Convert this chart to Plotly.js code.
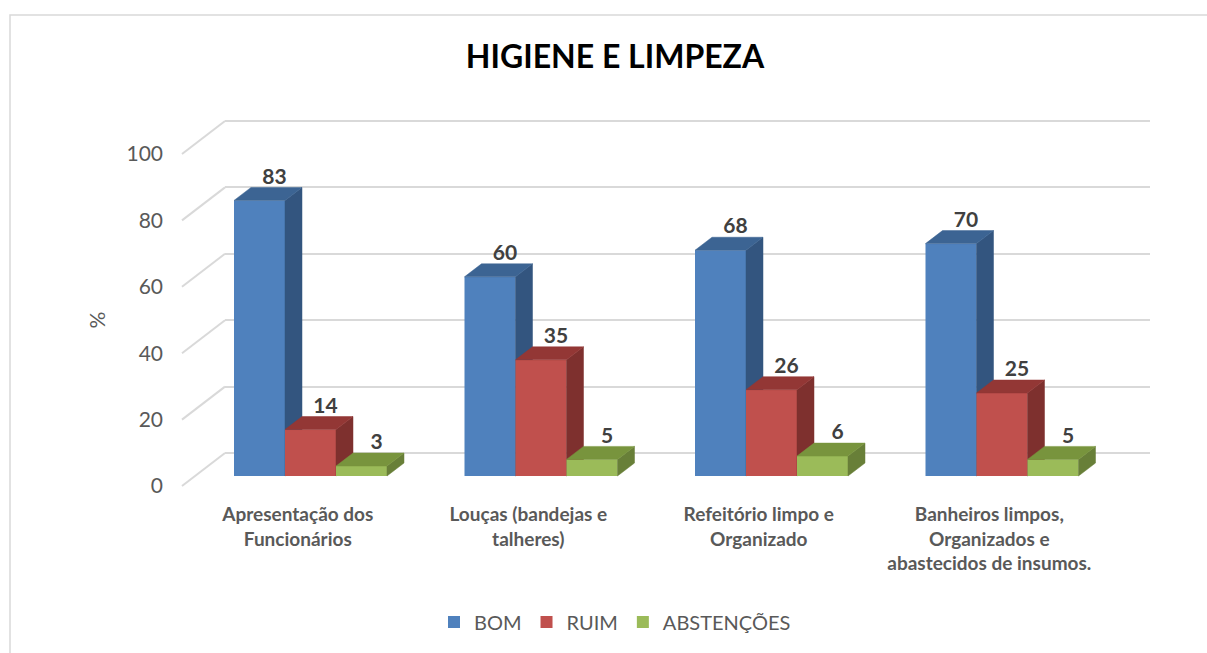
<!DOCTYPE html>
<html><head><meta charset="utf-8">
<script src="https://cdn.plot.ly/plotly-3.0.1.min.js"></script>
<style>html,body{margin:0;padding:0;background:#fff}</style>
</head><body><div id="chart" style="width:1207px;height:653px"></div>
<script>
// ---- data ----
const categories = ['Apresentação dos<br>Funcionários', 'Louças (bandejas e<br>talheres)', 'Refeitório limpo e<br>Organizado', 'Banheiros limpos,<br>Organizados e<br>abastecidos de insumos.'];
const seriesNames = ['BOM', 'RUIM', 'ABSTENÇÕES'];
const bom = [83, 60, 68, 70];
const ruim = [14, 35, 26, 25];
const abstencoes = [3, 5, 6, 5];
const yTicks = [0, 20, 40, 60, 80, 100];

// ---- styling / geometry (pixels) ----
const W = 1207, H = 653;
const FONT = "Lato, 'Open Sans', sans-serif";
const frontColors = ['#4F81BD', '#C0504D', '#9BBB59'];
const sideColors = ['#33557F', '#7E302E', '#687F38'];
const topColors = ['#3C6493', '#933735', '#78943D'];
const PLOT_TOP = 100, PLOT_BOT = 540;
const Y_PX = 3.32;            // px per %
const BAR_ZERO = 476, TICK_ZERO = 486, WALL_ZERO = 453;
const X_PX = 230.5;           // px per category
const BAR_CAT0 = 310.5, TICK_CAT0 = 297.8;
const F_LEFT = 175, RIGHT = 1150, WALL_LEFT = 225, DIAG_LEFT = 182;
const BAR_W = 51 / X_PX;
const DX = 17 / X_PX, DY = 13 / Y_PX;
const LABEL_DX = 15 / X_PX, LABEL_DY = 22 / Y_PX;
const WALL_DY = (TICK_ZERO - WALL_ZERO) / Y_PX;

const yDom = [1 - PLOT_BOT / H, 1 - PLOT_TOP / H];
const yRange = z => [(z - PLOT_BOT) / Y_PX, (z - PLOT_TOP) / Y_PX];
const xRange = (c0, l, r) => [(l - c0) / X_PX, (r - c0) / X_PX];
const x3px = px => (px - TICK_CAT0) / X_PX;

const values = [bom, ruim, abstencoes];
const yIds = ['y2', 'y4', 'y5'];
const traces = [];

// bars (front faces)
values.forEach((vals, i) => {
  traces.push({
    type: 'bar', name: seriesNames[i], x: vals.map((_, k) => k), y: vals,
    width: BAR_W, offset: -1.5 * BAR_W + i * BAR_W,
    marker: {color: frontColors[i], line: {width: 0}},
    xaxis: 'x2', yaxis: yIds[i], hoverinfo: 'skip'
  });
});
// side and top faces, labels
values.forEach((vals, i) => {
  const sx = [], sy = [], tx = [], ty = [], lx = [], ly = [];
  vals.forEach((v, k) => {
    const x0 = k - 1.5 * BAR_W + i * BAR_W, x1 = x0 + BAR_W;
    sx.push(x1, x1 + DX, x1 + DX, x1, x1, null);
    sy.push(0, DY, v + DY, v, 0, null);
    tx.push(x0, x1, x1 + DX, x0 + DX, x0, null);
    ty.push(v, v, v + DY, v + DY, v, null);
    lx.push(x0 + BAR_W / 2 + LABEL_DX); ly.push(v + LABEL_DY);
  });
  traces.push({type: 'scatter', mode: 'lines', x: sx, y: sy, fill: 'toself', fillcolor: sideColors[i],
    line: {width: 0.5, color: sideColors[i]}, xaxis: 'x2', yaxis: yIds[i], showlegend: false, hoverinfo: 'skip'});
  traces.push({type: 'scatter', mode: 'lines', x: tx, y: ty, fill: 'toself', fillcolor: topColors[i],
    line: {width: 0.5, color: topColors[i]}, xaxis: 'x2', yaxis: yIds[i], showlegend: false, hoverinfo: 'skip'});
  traces.push({type: 'scatter', mode: 'text', x: lx, y: ly, text: vals.map(String), textposition: 'middle center',
    textfont: {family: FONT, size: 21, color: '#404040', weight: 'bold'}, cliponaxis: false,
    xaxis: 'x2', yaxis: yIds[i], showlegend: false, hoverinfo: 'skip'});
});
// back wall (gridlines subplot)
traces.push({type: 'scatter', mode: 'none', x: [0.5], y: [50], xaxis: 'x', yaxis: 'y', showlegend: false, hoverinfo: 'skip'});
// side wall diagonals (tick plane subplot)
const dx = [], dy = [];
yTicks.forEach(v => { dx.push(x3px(DIAG_LEFT), x3px(WALL_LEFT), null); dy.push(v, v + WALL_DY, null); });
traces.push({type: 'scatter', mode: 'lines', x: dx, y: dy, line: {color: '#D9D9D9', width: 2},
  xaxis: 'x3', yaxis: 'y3', showlegend: false, hoverinfo: 'skip'});

const hidden = {showgrid: false, zeroline: false, showline: false, showticklabels: false, ticks: ''};
const layout = {
  width: W, height: H, margin: {l: 0, r: 0, t: 0, b: 0},
  paper_bgcolor: '#ffffff', plot_bgcolor: 'rgba(0,0,0,0)',
  font: {family: FONT, color: '#595959'},
  showlegend: true,
  title: {text: 'HIGIENE E LIMPEZA', font: {family: FONT, size: 32, color: '#000000', weight: 'bold'},
    x: 615 / W, y: 1 - 57 / H, xref: 'paper', yref: 'paper', xanchor: 'center', yanchor: 'middle'},
  xaxis: Object.assign({domain: [WALL_LEFT / W, RIGHT / W], range: [0, 1], anchor: 'y'}, hidden),
  yaxis: Object.assign({}, hidden, {domain: yDom, range: yRange(WALL_ZERO), anchor: 'x',
    showgrid: true, gridcolor: '#D9D9D9', gridwidth: 2, tickmode: 'array', tickvals: yTicks}),
  xaxis2: Object.assign({domain: [F_LEFT / W, RIGHT / W], range: xRange(BAR_CAT0, F_LEFT, RIGHT), anchor: 'y2'}, hidden),
  yaxis2: Object.assign({domain: yDom, range: yRange(BAR_ZERO), anchor: 'x2'}, hidden),
  yaxis4: Object.assign({overlaying: 'y2', range: yRange(BAR_ZERO), anchor: 'x2'}, hidden),
  yaxis5: Object.assign({overlaying: 'y2', range: yRange(BAR_ZERO), anchor: 'x2'}, hidden),
  xaxis3: Object.assign({}, hidden, {overlaying: 'x2', range: xRange(TICK_CAT0, F_LEFT, RIGHT), anchor: 'free',
    position: 1 - 501 / H, side: 'bottom', showticklabels: true, tickmode: 'array',
    tickvals: categories.map((_, k) => k), ticktext: categories,
    tickfont: {family: FONT, size: 19, color: '#595959', weight: 'bold'}}),
  yaxis3: Object.assign({}, hidden, {overlaying: 'y2', range: yRange(TICK_ZERO), anchor: 'free',
    position: 163 / W, side: 'left', showticklabels: true, tickmode: 'array', tickvals: yTicks,
    tickfont: {family: FONT, size: 21, color: '#595959'},
    title: {text: '%', font: {family: FONT, size: 21, color: '#595959'}, standoff: 14}}),
  legend: {orientation: 'h', x: 615 / W, xanchor: 'center', y: 1 - 622 / H, yanchor: 'middle',
    font: {family: FONT, size: 20, color: '#595959'}, bgcolor: 'rgba(0,0,0,0)', traceorder: 'normal'},
  shapes: [{type: 'rect', xref: 'paper', yref: 'paper', x0: 10 / W, y0: -0.05, x1: 1.05, y1: 1 - 15 / H,
    line: {color: '#D9D9D9', width: 1.5}, fillcolor: 'rgba(0,0,0,0)', layer: 'below'}]
};
Plotly.newPlot('chart', traces, layout, {staticPlot: true, displayModeBar: false});
</script></body></html>
